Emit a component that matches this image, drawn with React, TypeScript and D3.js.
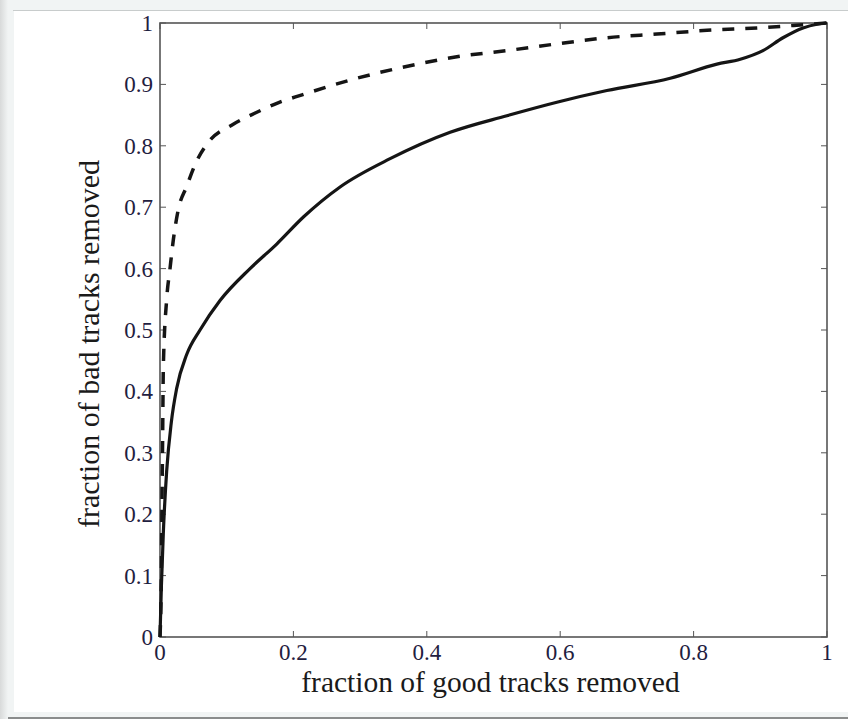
import React, { useEffect, useRef } from "react";
import * as d3 from "d3";

const solidX = [0, 0.002, 0.005, 0.01, 0.017, 0.025, 0.04, 0.06, 0.09, 0.135, 0.175, 0.215, 0.27, 0.345, 0.435, 0.52, 0.595, 0.67, 0.765, 0.835, 0.87, 0.904, 0.934, 0.964, 0.985, 1];
const solidY = [0, 0.08, 0.17, 0.27, 0.35, 0.405, 0.46, 0.5, 0.548, 0.6, 0.64, 0.684, 0.733, 0.779, 0.822, 0.849, 0.871, 0.89, 0.91, 0.933, 0.941, 0.955, 0.976, 0.992, 0.998, 1];

const dashedX = [0, 0.002, 0.003, 0.004, 0.005, 0.01, 0.015, 0.02, 0.027, 0.04, 0.055, 0.075, 0.108, 0.142, 0.177, 0.213, 0.285, 0.364, 0.445, 0.52, 0.595, 0.67, 0.745, 0.82, 0.895, 0.95, 1];
const dashedY = [0, 0.1, 0.22, 0.33, 0.44, 0.55, 0.6, 0.647, 0.694, 0.734, 0.775, 0.809, 0.834, 0.853, 0.87, 0.883, 0.907, 0.928, 0.945, 0.955, 0.966, 0.976, 0.982, 0.988, 0.992, 0.996, 1];

const xTicks = [0, 0.2, 0.4, 0.6, 0.8, 1];
const yTicks = [0, 0.1, 0.2, 0.3, 0.4, 0.5, 0.6, 0.7, 0.8, 0.9, 1];
const xTitle = "fraction of good tracks removed";
const yTitle = "fraction of bad tracks removed";

const W = 848;
const H = 719;
const M = { left: 160, right: 827, top: 23, bottom: 637 };

export default function App() {
  const ref = useRef<SVGSVGElement>(null);
  useEffect(() => {
    const svg = d3.select(ref.current);
    svg.selectAll("*").remove();
    const x = d3.scaleLinear().domain([0, 1]).range([M.left, M.right]);
    const y = d3.scaleLinear().domain([0, 1]).range([M.bottom, M.top]);
    const font = "'Liberation Serif', 'Times New Roman', serif";

    // frame
    const defs = svg.append("defs");
    const g = defs.append("linearGradient").attr("id", "shadowL").attr("x1", 0).attr("x2", 1);
    g.append("stop").attr("offset", 0).attr("stop-color", "#d8dada");
    g.append("stop").attr("offset", 1).attr("stop-color", "#f1f4f4");
    svg.append("rect").attr("x", 0).attr("y", 0).attr("width", W).attr("height", H).attr("fill", "#f1f4f4");
    svg.append("rect").attr("x", 0).attr("y", 0).attr("width", 8).attr("height", H).attr("fill", "url(#shadowL)");
    svg.append("rect").attr("x", 14).attr("y", 11).attr("width", W - 14).attr("height", 701).attr("fill", "#ffffff");
    svg.append("line").attr("x1", 13).attr("x2", W).attr("y1", 10.5).attr("y2", 10.5).attr("stroke", "#c8cccc").attr("stroke-width", 1);
    svg.append("line").attr("x1", 8).attr("x2", W).attr("y1", 718).attr("y2", 718).attr("stroke", "#8a8c8c").attr("stroke-width", 2);

    // axes box
    const axisColor = "#555";
    svg.append("rect")
      .attr("x", M.left).attr("y", M.top)
      .attr("width", M.right - M.left).attr("height", M.bottom - M.top)
      .attr("fill", "none").attr("stroke", axisColor).attr("stroke-width", 1.6);

    const tl = 6;
    const ticks = svg.append("g").attr("stroke", axisColor).attr("stroke-width", 1);
    xTicks.forEach((t) => {
      ticks.append("line").attr("x1", x(t)).attr("x2", x(t)).attr("y1", M.bottom).attr("y2", M.bottom - tl);
      ticks.append("line").attr("x1", x(t)).attr("x2", x(t)).attr("y1", M.top).attr("y2", M.top + tl);
    });
    yTicks.forEach((t) => {
      ticks.append("line").attr("x1", M.left).attr("x2", M.left + tl).attr("y1", y(t)).attr("y2", y(t));
      ticks.append("line").attr("x1", M.right).attr("x2", M.right - tl).attr("y1", y(t)).attr("y2", y(t));
    });

    const labelColor = "#1f2040";
    svg.append("g").selectAll("text").data(xTicks).join("text")
      .attr("x", (d) => x(d)).attr("y", 660)
      .attr("text-anchor", "middle")
      .attr("font-family", font).attr("font-size", 23).attr("fill", labelColor)
      .text((d) => d3.format("~g")(d));
    svg.append("g").selectAll("text").data(yTicks).join("text")
      .attr("x", 153).attr("y", (d) => y(d) + 8)
      .attr("text-anchor", "end")
      .attr("font-family", font).attr("font-size", 23).attr("fill", labelColor)
      .text((d) => d3.format("~g")(d));

    svg.append("text").attr("x", (M.left + M.right) / 2 - 3).attr("y", 692)
      .attr("text-anchor", "middle").attr("font-family", font).attr("font-size", 29.5).attr("fill", "#1a1a1a")
      .text(xTitle);
    svg.append("text")
      .attr("transform", `translate(99, ${344}) rotate(-90)`)
      .attr("text-anchor", "middle").attr("font-family", font).attr("font-size", 30).attr("fill", "#1a1a1a")
      .text(yTitle);

    const line = d3.line<[number, number]>().x((d) => x(d[0])).y((d) => y(d[1])).curve(d3.curveMonotoneX);
    const solid = solidX.map((v, i) => [v, solidY[i]] as [number, number]);
    const dashed = dashedX.map((v, i) => [v, dashedY[i]] as [number, number]);
    svg.append("path").attr("d", line(dashed)).attr("fill", "none").attr("stroke", "#151515")
      .attr("stroke-width", 3.5).attr("stroke-dasharray", "12,11");
    svg.append("path").attr("d", line(solid)).attr("fill", "none").attr("stroke", "#151515")
      .attr("stroke-width", 3.2).attr("stroke-linejoin", "round");
  }, []);
  return (
    <svg ref={ref} width={W} height={H} style={{ position: "absolute", left: 0, top: 0, display: "block" }} />
  );
}
